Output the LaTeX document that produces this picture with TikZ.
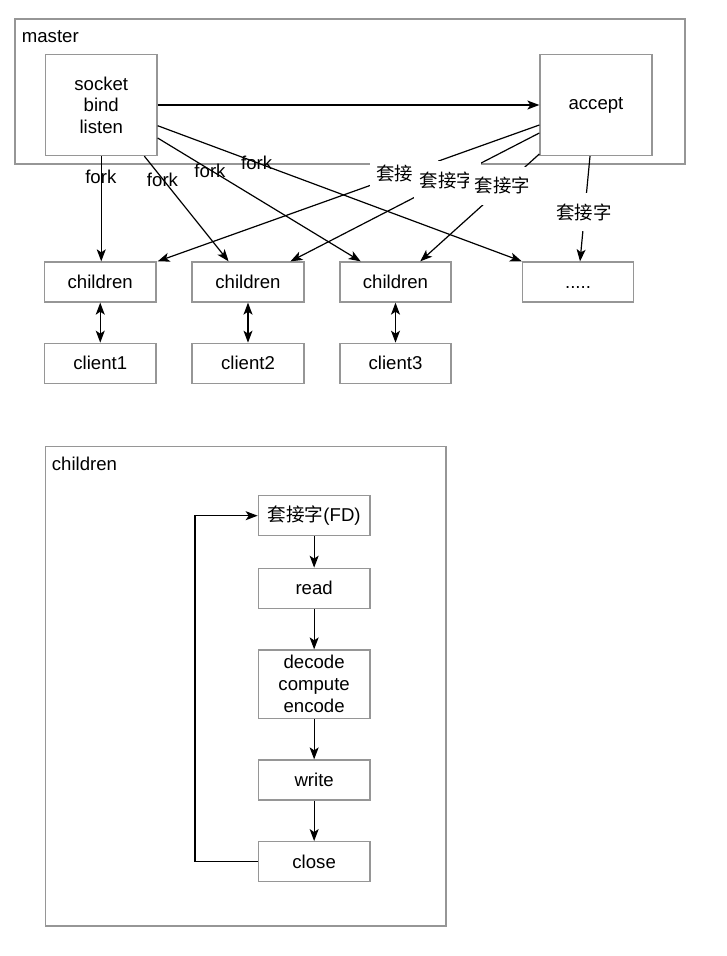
\documentclass[tikz,border=0pt]{standalone}
\usepackage{fontspec}
\setmainfont{Liberation Sans}
\newfontfamily\cjk{Noto Sans CJK SC}
\usetikzlibrary{arrows.meta,calc}
\definecolor{boxgray}{RGB}{150,150,150}
\begin{document}
\begin{tikzpicture}[x=1pt,y=-1pt,
  every node/.style={font=\fontsize{18.6pt}{21.5pt}\selectfont, inner sep=0pt},
  box/.style={draw=boxgray, line width=1.3pt, fill=white, align=center},
  tip/.tip={Stealth[length=12pt,width=9pt,inset=3pt]},
  arr/.style={-tip, line width=1.2pt},
  darr/.style={tip-tip, line width=1.2pt},
  sock/.style={fill=white, inner xsep=6pt, minimum height=38pt, font=\cjk\fontsize{18.4pt}{21pt}\selectfont},
  flab/.style={anchor=base}
]
\useasboundingbox[fill=white] (0,0) rectangle (726,956);

% ---------- top part ----------
\node[box, minimum width=670pt, minimum height=145pt] (master) at (350,91.5) {};
\node[anchor=base west] (mastertxt) at (21.7,42.7) {master};

\node[box, minimum width=111.5pt, minimum height=101pt] (socket) at (101.25,105) {socket\\bind\\listen};
\node[box, minimum width=112pt, minimum height=101pt] (accept) at (596,105) {accept};

\node[box, minimum width=111.5pt, minimum height=40pt] (c1) at (100.25,282) {children};
\node[box, minimum width=112pt, minimum height=40pt] (c2) at (248,282) {children};
\node[box, minimum width=111pt, minimum height=40pt] (c3) at (395.5,282) {children};
\node[box, minimum width=111pt, minimum height=40pt] (dots) at (578,282) {\vphantom{children}.....};

\node[box, minimum width=111.5pt, minimum height=40pt] (cl1) at (100.25,363.3) {client1};
\node[box, minimum width=112pt, minimum height=40pt] (cl2) at (248,363.3) {client2};
\node[box, minimum width=111pt, minimum height=40pt] (cl3) at (395.5,363.3) {client3};

\draw[arr] (socket.east) -- (accept.west);
% fork arrows
\draw[arr] (socket.south) -- (socket.south |- c1.north);
\draw[arr] ([xshift=-13.3pt]socket.south east) -- ([xshift=-19.4pt]c2.north);
\draw[arr] ([yshift=-33pt]socket.east) -- ([xshift=-34.8pt]c3.north);
\draw[arr] ([yshift=-20.7pt]socket.east) -- (dots.north west);
% socket arrows
\draw[arr] ([yshift=-20pt]accept.west) -- ([xshift=1pt]c1.north east);
\draw[arr] ([yshift=-28pt]accept.west) -- ([xshift=-14.2pt]c2.north east);
\draw[arr] ([yshift=-49pt]accept.west) -- ([xshift=-31.4pt]c3.north east);
\draw[arr] ([xshift=-6pt]accept.south) -- ([xshift=2pt]dots.north);

\draw[darr] (c1.south) -- (cl1.north);
\draw[darr] (c2.south) -- (cl2.north);
\draw[darr] (c3.south) -- (cl3.north);

% labels
\node[flab] (f1) at (100.8,183.3) {fork};
\node[flab] (f2) at (162.5,186) {fork};
\node[flab] (f3) at (210,177.3) {fork};
\node[flab] (f4) at (256.7,169) {fork};

\node[sock] (s1) at (404,173.3) {套接字};
\node[sock] (s2) at (447.5,180) {套接字};
\node[sock] (s3) at (502.5,185.5) {套接字};
\node[sock] (s4) at (584,212) {套接字};

% ---------- bottom part ----------
\node[box, minimum width=400.3pt, minimum height=479.3pt] (outer) at (245.85,686.35) {};
\node[anchor=base west] (childtxt) at (51.7,470.7) {children};

\node[box, minimum width=111.7pt, minimum height=40pt] (fd) at (314.15,515.7) {{\cjk 套接字}(FD)};
\node[box, minimum width=111.7pt, minimum height=40pt] (read) at (314.15,588.3) {read};
\node[box, minimum width=111.7pt, minimum height=68.3pt, font=\fontsize{18.6pt}{22pt}\selectfont] (dec) at (314.15,684.15) {decode\\compute\\encode};
\node[box, minimum width=111.7pt, minimum height=40pt] (write) at (314.15,780) {write};
\node[box, minimum width=111.7pt, minimum height=40pt] (close) at (314.15,861.7) {close};

\draw[arr] (fd.south) -- (read.north);
\draw[arr] (read.south) -- (dec.north);
\draw[arr] (dec.south) -- (write.north);
\draw[arr] (write.south) -- (close.north);
\draw[arr] (close.west) -- ++(-62.6,0) |- (fd.west);
\end{tikzpicture}
\end{document}
